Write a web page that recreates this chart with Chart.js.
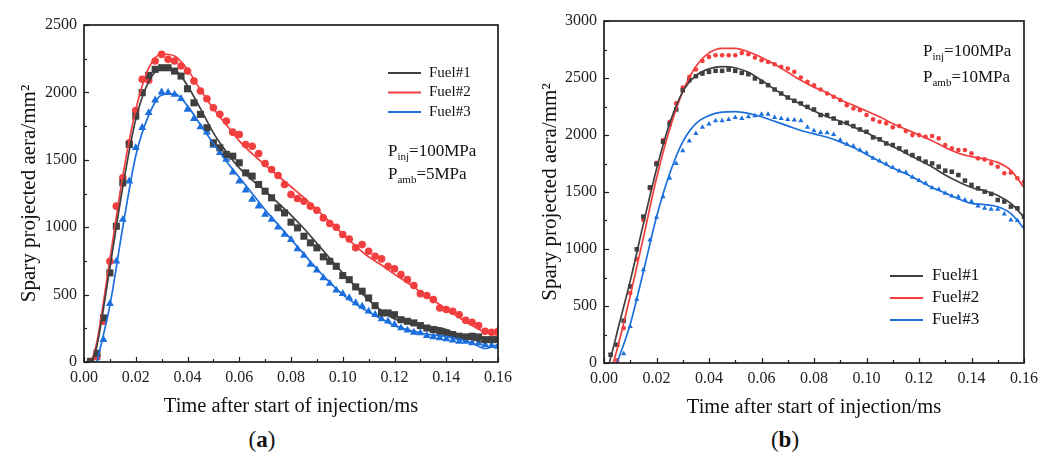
<!DOCTYPE html>
<html><head><meta charset="utf-8">
<script src="https://cdn.jsdelivr.net/npm/chart.js@4/dist/chart.umd.min.js"></script>
<style>
body{margin:0;background:#fff;width:1061px;height:458px;overflow:hidden;position:relative;font-family:'Liberation Serif',serif;}
.panel{position:absolute;top:0;height:420px;}
.cap{position:absolute;top:427px;font-size:23px;color:#111;width:60px;text-align:center;font-family:'Liberation Serif',serif;}
</style></head><body>
<div class="panel" style="left:0;width:530px"><canvas id="ca" width="530" height="420"></canvas></div>
<div class="panel" style="left:530px;width:531px"><canvas id="cb" width="531" height="420"></canvas></div>
<div class="cap" style="left:232px">(<b>a</b>)</div>
<div class="cap" style="left:755px">(<b>b</b>)</div>
<script>
// ---------- data ----------
const seriesNames = ['Fuel#1', 'Fuel#2', 'Fuel#3'];
const xTitle = 'Time after start of injection/ms';
const yTitle = 'Spary projected aera/mm\u00B2';
const xTickLabels = ['0.00','0.02','0.04','0.06','0.08','0.10','0.12','0.14','0.16'];
const yTickLabelsA = ['0','500','1000','1500','2000','2500'];
const yTickLabelsB = ['0','500','1000','1500','2000','2500','3000'];
const condA = [['P','inj','=100MPa'], ['P','amb','=5MPa']];
const condB = [['P','inj','=100MPa'], ['P','amb','=10MPa']];

// measurement sample times (ms)
const sampleTime = [0, 0.0025, 0.005, 0.0075, 0.01, 0.0125, 0.015, 0.0175, 0.02, 0.0225, 0.025, 0.0275, 0.03, 0.0325, 0.035, 0.0375, 0.04, 0.0425, 0.045, 0.0475, 0.05, 0.0525, 0.055, 0.0575, 0.06, 0.0625, 0.065, 0.0675, 0.07, 0.0725, 0.075, 0.0775, 0.08, 0.0825, 0.085, 0.0875, 0.09, 0.0925, 0.095, 0.0975, 0.1, 0.1025, 0.105, 0.1075, 0.11, 0.1125, 0.115, 0.1175, 0.12, 0.1225, 0.125, 0.1275, 0.13, 0.1325, 0.135, 0.1375, 0.14, 0.1425, 0.145, 0.1475, 0.15, 0.1525, 0.155, 0.1575, 0.16];

// panel (a) measured
const aFuel1Meas = [null, 5, 65, 327, 661, 1007, 1329, 1614, 1824, 1998, 2126, 2171, 2183, 2183, 2158, 2121, 2027, 1923, 1837, 1738, 1626, 1589, 1540, 1527, 1478, 1403, 1379, 1317, 1267, 1218, 1144, 1106, 1037, 995, 933, 884, 847, 780, 747, 710, 641, 611, 557, 525, 475, 418, 364, 364, 351, 314, 302, 290, 270, 252, 240, 228, 215, 203, 191, 186, 191, 186, 166, 166, 166];
const aFuel2Meas = [null, 0, 40, 302, 747, 1156, 1366, 1626, 1866, 2097, 2090, 2233, 2282, 2245, 2233, 2196, 2158, 2084, 2010, 1953, 1886, 1837, 1787, 1705, 1688, 1614, 1601, 1547, 1473, 1428, 1384, 1317, 1243, 1213, 1193, 1156, 1126, 1069, 1027, 1000, 946, 913, 847, 871, 822, 785, 765, 710, 691, 649, 611, 567, 507, 493, 463, 401, 389, 376, 351, 309, 295, 270, 228, 220, 228];
const aFuel3Meas = [null, 0, 30, 166, 433, 747, 1057, 1342, 1589, 1738, 1849, 1943, 2002, 1998, 1985, 1953, 1874, 1805, 1743, 1705, 1606, 1552, 1502, 1408, 1342, 1275, 1206, 1156, 1094, 1057, 1000, 946, 908, 839, 790, 723, 681, 624, 582, 532, 507, 475, 438, 413, 376, 351, 319, 302, 277, 252, 235, 220, 215, 196, 186, 178, 171, 161, 153, 153, 141, 141, 129, 121, 116];

// panel (b) measured
const bFuel1Meas = [null, 73, 160, 371, 671, 998, 1284, 1541, 1745, 1941, 2096, 2224, 2393, 2481, 2516, 2539, 2554, 2563, 2563, 2574, 2563, 2545, 2533, 2496, 2466, 2437, 2399, 2364, 2329, 2300, 2277, 2247, 2224, 2175, 2175, 2145, 2107, 2107, 2078, 2049, 2028, 1979, 1962, 1926, 1912, 1883, 1853, 1824, 1795, 1766, 1751, 1722, 1687, 1678, 1649, 1600, 1562, 1532, 1503, 1483, 1430, 1416, 1372, 1357, 1284];
const bFuel2Meas = [null, null, 23, 306, 613, 911, 1255, 1532, 1757, 1956, 2116, 2277, 2417, 2510, 2574, 2650, 2685, 2700, 2700, 2700, 2700, 2720, 2708, 2679, 2656, 2641, 2621, 2598, 2583, 2554, 2504, 2466, 2437, 2399, 2364, 2335, 2306, 2262, 2233, 2218, 2175, 2137, 2116, 2102, 2067, 2078, 2034, 1999, 1999, 1985, 1991, 1970, 1912, 1883, 1868, 1868, 1839, 1795, 1786, 1751, 1722, 1664, 1670, 1620, 1591];
const bFuel3Meas = [null, null, 0, 82, 321, 560, 817, 1080, 1278, 1459, 1620, 1751, 1862, 1947, 2014, 2067, 2096, 2125, 2125, 2137, 2154, 2145, 2160, 2169, 2183, 2183, 2154, 2145, 2137, 2131, 2125, 2067, 2037, 2023, 2020, 2005, 1956, 1918, 1903, 1868, 1845, 1795, 1772, 1745, 1716, 1684, 1672, 1629, 1600, 1576, 1538, 1524, 1489, 1465, 1459, 1430, 1416, 1378, 1357, 1348, 1348, 1308, 1255, 1249, 1197];

// fitted curves
const fitTime = [0.002, 0.0035, 0.005, 0.01, 0.015, 0.02, 0.025, 0.03, 0.035, 0.04, 0.045, 0.05, 0.055, 0.06, 0.065, 0.07, 0.075, 0.08, 0.085, 0.09, 0.095, 0.1, 0.105, 0.11, 0.115, 0.12, 0.125, 0.13, 0.135, 0.14, 0.145, 0.15, 0.155, 0.16];
const aFuel1Fit = [0, 30, 120, 700, 1300, 1800, 2080, 2180, 2170, 2050, 1880, 1700, 1560, 1440, 1350, 1270, 1180, 1090, 990, 880, 770, 660, 560, 460, 380, 320, 290, 270, 260, 240, 200, 165, 150, 170];
const aFuel2Fit = [0, 40, 150, 760, 1380, 1870, 2180, 2285, 2270, 2170, 2020, 1880, 1760, 1640, 1545, 1460, 1380, 1300, 1220, 1130, 1040, 950, 860, 780, 720, 650, 590, 520, 460, 390, 330, 270, 220, 200];
const aFuel3Fit = [null, null, 0, 420, 1000, 1530, 1830, 1980, 1990, 1900, 1760, 1620, 1490, 1370, 1250, 1130, 1020, 910, 800, 690, 590, 500, 430, 370, 320, 270, 240, 215, 200, 190, 170, 140, 100, 130];
const bFuel1Fit = [0, 130, 270, 720, 1220, 1700, 2100, 2380, 2520, 2580, 2600, 2590, 2550, 2480, 2400, 2330, 2270, 2210, 2160, 2120, 2070, 2020, 1960, 1900, 1840, 1780, 1720, 1650, 1590, 1540, 1510, 1470, 1400, 1280];
const bFuel2Fit = [null, 0, 120, 590, 1100, 1620, 2050, 2380, 2600, 2720, 2760, 2760, 2730, 2680, 2620, 2550, 2480, 2420, 2370, 2310, 2260, 2210, 2160, 2100, 2050, 2000, 1950, 1890, 1840, 1810, 1790, 1760, 1690, 1540];
const bFuel3Fit = [null, null, 0, 340, 800, 1280, 1660, 1940, 2100, 2170, 2200, 2205, 2190, 2160, 2120, 2080, 2040, 2010, 1980, 1940, 1890, 1830, 1770, 1710, 1660, 1600, 1540, 1490, 1440, 1400, 1390, 1370, 1310, 1180];

// ---------- styling ----------
const SERIF = "'Liberation Serif', 'Times New Roman', serif";
const colors = ['#3f3f3f', '#f23e3e', '#1c6fdc'];
const markers = ['rect', 'circle', 'triangle'];

function pts(xs, ys) {
  const out = [];
  xs.forEach((x, i) => { if (ys[i] !== null && ys[i] !== undefined) out.push({x: x, y: ys[i]}); });
  return out;
}

function makeDecor(cfg) {
  return {
    id: 'decor',
    afterDatasetsDraw(chart) {
      const ctx = chart.ctx, a = chart.chartArea, sx = chart.scales.x, sy = chart.scales.y;
      ctx.save();
      ctx.strokeStyle = '#1e1e1e';
      ctx.lineWidth = 1.2;
      sx.ticks.forEach(t => {
        const px = Math.round(sx.getPixelForValue(t.value)) + 0.5;
        const len = t.label ? 5 : 3;
        ctx.beginPath(); ctx.moveTo(px, a.bottom); ctx.lineTo(px, a.bottom - len); ctx.stroke();
      });
      sy.ticks.forEach(t => {
        const py = Math.round(sy.getPixelForValue(t.value)) + 0.5;
        const len = t.label ? 5 : 3;
        ctx.beginPath(); ctx.moveTo(a.left, py); ctx.lineTo(a.left + len, py); ctx.stroke();
      });
      ctx.lineWidth = 1.7;
      ctx.strokeRect(a.left, a.top, a.right - a.left, a.bottom - a.top);
      // legend
      const L = cfg.legend;
      let row = 0;
      chart.data.datasets.forEach(d => {
        if (d.type !== 'line') return;
        const y = L.y + row * L.dy;
        ctx.strokeStyle = d.borderColor; ctx.lineWidth = 2;
        ctx.beginPath(); ctx.moveTo(L.x, y); ctx.lineTo(L.x + L.len, y); ctx.stroke();
        ctx.fillStyle = '#111'; ctx.font = L.size + 'px ' + SERIF; ctx.textBaseline = 'middle';
        ctx.fillText(d.label, L.x + L.len + L.gap, y);
        row++;
      });
      // condition text
      const C = cfg.cond;
      ctx.fillStyle = '#111'; ctx.textBaseline = 'alphabetic';
      cfg.condText.forEach((parts, i) => {
        const y = C.y + i * C.dy;
        let x = C.x;
        ctx.font = C.size + 'px ' + SERIF;
        ctx.fillText(parts[0], x, y); x += ctx.measureText(parts[0]).width;
        ctx.font = C.sub + 'px ' + SERIF;
        ctx.fillText(parts[1], x, y + 4); x += ctx.measureText(parts[1]).width;
        ctx.font = C.size + 'px ' + SERIF;
        ctx.fillText(parts[2], x, y);
      });
      ctx.restore();
    }
  };
}

function makeChart(id, cfg) {
  const datasets = [];
  cfg.fits.forEach((f, i) => datasets.push({
    type: 'line', label: seriesNames[i], data: pts(fitTime, f),
    borderColor: colors[i], backgroundColor: colors[i], borderWidth: 1.7,
    pointRadius: 0, cubicInterpolationMode: 'monotone', fill: false, order: 0
  }));
  cfg.meas.forEach((m, i) => datasets.push({
    type: 'scatter', label: seriesNames[i] + ' exp', data: pts(sampleTime, m),
    pointStyle: markers[i], pointRadius: cfg.radii[i], pointBorderWidth: 0,
    backgroundColor: colors[i], borderColor: colors[i], showLine: false, order: 1
  }));
  const yLabels = cfg.yLabels;
  return new Chart(document.getElementById(id), {
    data: {datasets},
    plugins: [makeDecor(cfg)],
    options: {
      responsive: false, animation: false, devicePixelRatio: 1,
      layout: {padding: {left: 0, right: cfg.padR, top: cfg.padT, bottom: 0}},
      plugins: {legend: {display: false}, tooltip: {enabled: false}},
      scales: {
        x: {
          type: 'linear', min: 0, max: 0.16,
          grid: {display: false, drawTicks: false}, border: {display: false},
          ticks: {stepSize: 0.01, autoSkip: false, maxRotation: 0, padding: 6, color: '#222',
            font: {family: SERIF, size: 16},
            callback: v => { const s = v.toFixed(2); return xTickLabels.includes(s) ? s : ''; }},
          title: {display: true, text: xTitle, color: '#111', font: {family: SERIF, size: 20.5},
            padding: {top: 0, bottom: cfg.xTitlePad}},
          afterFit: s => { s.height = cfg.xH; }
        },
        y: {
          type: 'linear', min: 0, max: cfg.yMax,
          grid: {display: false, drawTicks: false}, border: {display: false},
          ticks: {stepSize: 250, autoSkip: false, padding: 7, color: '#222',
            font: {family: SERIF, size: 16},
            callback: v => { const s = String(Math.round(v)); return yLabels.includes(s) ? s : ''; }},
          title: {display: true, text: yTitle, color: '#111', font: {family: SERIF, size: 21},
            padding: {top: cfg.yTitlePad, bottom: 0}},
          afterFit: s => { s.width = cfg.yW; }
        }
      }
    }
  });
}

makeChart('ca', {
  fits: [aFuel1Fit, aFuel2Fit, aFuel3Fit],
  meas: [aFuel1Meas, aFuel2Meas, aFuel3Meas],
  radii: [5, 3.8, 4.6],
  yMax: 2500, yLabels: yTickLabelsA,
  padR: 32, padT: 25, xH: 58, yW: 84, xTitlePad: 1, yTitlePad: 17,
  legend: {x: 388, y: 73, dy: 19.5, len: 33, gap: 8, size: 15},
  cond: {x: 388, y: 156, dy: 23, size: 17, sub: 11},
  condText: condA
});

makeChart('cb', {
  fits: [bFuel1Fit, bFuel2Fit, bFuel3Fit],
  meas: [bFuel1Meas, bFuel2Meas, bFuel3Meas],
  radii: [3.2, 2.3, 3.0],
  yMax: 3000, yLabels: yTickLabelsB,
  padR: 37, padT: 21, xH: 57, yW: 74, xTitlePad: 0, yTitlePad: 8,
  legend: {x: 360, y: 276, dy: 22, len: 33, gap: 9, size: 17},
  cond: {x: 393, y: 56, dy: 26, size: 17, sub: 11},
  condText: condB
});
</script>
</body></html>
